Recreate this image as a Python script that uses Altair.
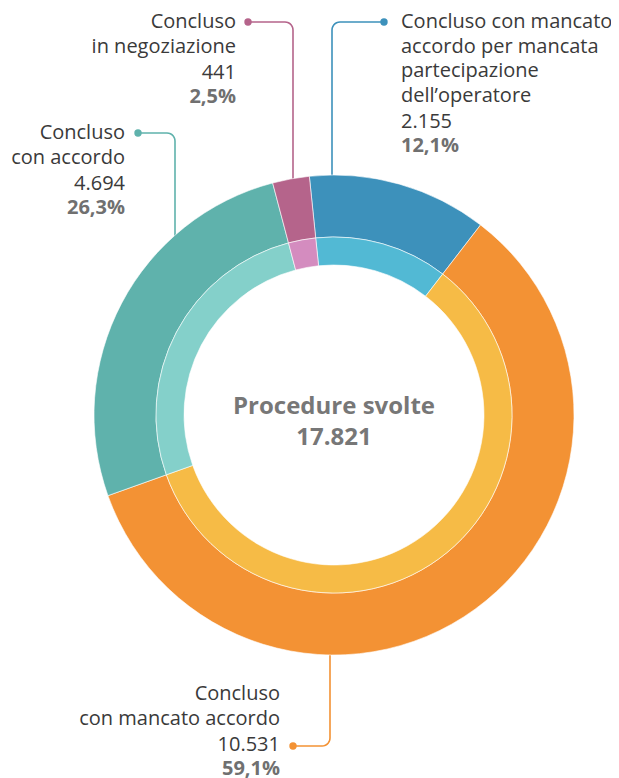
import math
import numpy as np
import pandas as pd
import altair as alt

# ---- data ----
categories = [
    "Concluso con mancato accordo per mancata partecipazione dell'operatore",
    "Concluso con mancato accordo",
    "Concluso con accordo",
    "Concluso in negoziazione",
]
values = [2155, 10531, 4694, 441]
value_labels = ["2.155", "10.531", "4.694", "441"]
pct_labels = ["12,1%", "59,1%", "26,3%", "2,5%"]
label_lines = [
    ["Concluso con mancato", "accordo per mancata", "partecipazione", "dell\u2019operatore"],
    ["Concluso", "con mancato accordo"],
    ["Concluso", "con accordo"],
    ["Concluso", "in negoziazione"],
]
center_title = "Procedure svolte"
center_total = "17.821"

# ---- styles ----
dark_colors = ["#3d91bb", "#f39234", "#5fb2ac", "#b5648b"]
light_colors = ["#52b9d4", "#f6bb46", "#84d0ca", "#d48cbf"]
W, H, M = 603, 770, 8
CX, CY = 334 - M, 415 - M
R_OUT, R_MID, R_IN = 240, 178, 150
START = math.radians(-5.9)

df = pd.DataFrame({"cat": categories, "value": values, "ord": list(range(len(values)))})

xs = alt.Scale(domain=[0, W], range=[0, W], nice=False, zero=False)
ys = alt.Scale(domain=[0, H], range=[0, H], nice=False, zero=False)
theta = alt.Theta("value:Q", stack=True, scale=alt.Scale(range=[START, START + 2 * math.pi]))

outer = alt.Chart(df).mark_arc(radius=R_OUT, radius2=R_MID, stroke="white", strokeWidth=0.6).encode(
    theta=theta,
    order=alt.Order("ord:Q"),
    color=alt.Color("cat:N", scale=alt.Scale(domain=categories, range=dark_colors), legend=None),
    x=alt.value(CX), y=alt.value(CY),
)
inner = alt.Chart(df).mark_arc(radius=R_MID, radius2=R_IN, stroke="white", strokeWidth=0.6).encode(
    theta=theta,
    order=alt.Order("ord:Q"),
    color=alt.Color("cat:N", scale=alt.Scale(domain=categories, range=light_colors), legend=None),
    x=alt.value(CX), y=alt.value(CY),
)

# ---- leader lines (annotation geometry, page coords) ----
# (dot x, dot y, corner x, end y)
leaders = [
    (384, 22, 332, 176),
    (293, 746, 330, 655),
    (138, 133, 175, 237),
    (248, 22, 293, 179),
]
rad = 8
rows = []
for i, (dx, dy, cx, ey) in enumerate(leaders):
    sx = 1 if cx > dx else -1
    sy = 1 if ey > dy else -1
    pts = [(dx, dy), (cx - sx * rad, dy)]
    ccx, ccy = cx - sx * rad, dy + sy * rad
    for t in np.linspace(0, math.pi / 2, 8)[1:]:
        pts.append((ccx + sx * rad * math.sin(t), ccy - sy * rad * math.cos(t)))
    pts.append((cx, ey))
    for k, (px, py) in enumerate(pts):
        rows.append({"cat": categories[i], "x": px - M, "y": py - M, "k": k})
lines_df = pd.DataFrame(rows)
dots_df = pd.DataFrame({"cat": categories, "x": [l[0] - M for l in leaders], "y": [l[1] - M for l in leaders]})

lines = alt.Chart(lines_df).mark_line(strokeWidth=1.6).encode(
    x=alt.X("x:Q", scale=xs, axis=None),
    y=alt.Y("y:Q", scale=ys, axis=None),
    detail="cat:N",
    order="k:Q",
    color=alt.Color("cat:N", scale=alt.Scale(domain=categories, range=dark_colors), legend=None),
)
dots = alt.Chart(dots_df).mark_circle(size=55, opacity=1).encode(
    x=alt.X("x:Q", scale=xs, axis=None),
    y=alt.Y("y:Q", scale=ys, axis=None),
    color=alt.Color("cat:N", scale=alt.Scale(domain=categories, range=dark_colors), legend=None),
)

# ---- labels ----
anchors = [
    (401, 22, "left"),
    (280, 694, "right"),
    (125, 133, "right"),
    (236, 22, "right"),
]
step = 24.5
txt_rows, pct_rows = [], []
for i, (ax, ay, al) in enumerate(anchors):
    y = ay
    for ln in label_lines[i]:
        txt_rows.append({"t": ln, "x": ax - M, "y": y - M, "al": al})
        y += step
    y += 1.5
    txt_rows.append({"t": value_labels[i], "x": ax - M, "y": y - M, "al": al})
    y += step
    pct_rows.append({"t": pct_labels[i], "x": ax - M, "y": y - M, "al": al})
txt_df = pd.DataFrame(txt_rows)
pct_df = pd.DataFrame(pct_rows)

FONT = "Open Sans"


def text_layer(d, align, weight, color, size):
    return alt.Chart(d[d["al"] == align]).mark_text(
        align=align, baseline="middle", font=FONT, fontSize=size, fontWeight=weight, color=color
    ).encode(
        x=alt.X("x:Q", scale=xs, axis=None),
        y=alt.Y("y:Q", scale=ys, axis=None),
        text="t:N",
    )


center_df = pd.DataFrame({"t": [center_title, center_total], "x": [CX, CX], "y": [CY - 8, CY + 23]})
center = alt.Chart(center_df).mark_text(
    align="center", baseline="middle", font=FONT, fontSize=24, fontWeight="bold", color="#777777"
).encode(
    x=alt.X("x:Q", scale=xs, axis=None),
    y=alt.Y("y:Q", scale=ys, axis=None),
    text="t:N",
)

chart = alt.layer(
    lines,
    outer,
    inner,
    dots,
    text_layer(txt_df, "left", "normal", "#3a3a3a", 20),
    text_layer(txt_df, "right", "normal", "#3a3a3a", 20),
    text_layer(pct_df, "left", "bold", "#707070", 20),
    text_layer(pct_df, "right", "bold", "#707070", 20),
    center,
).resolve_scale(color="independent").properties(
    width=W, height=H, padding=0, autosize=alt.AutoSizeParams(type="none")
).configure_view(stroke=None)

chart.save("out.html", embed_options={"renderer": "svg", "actions": False})
